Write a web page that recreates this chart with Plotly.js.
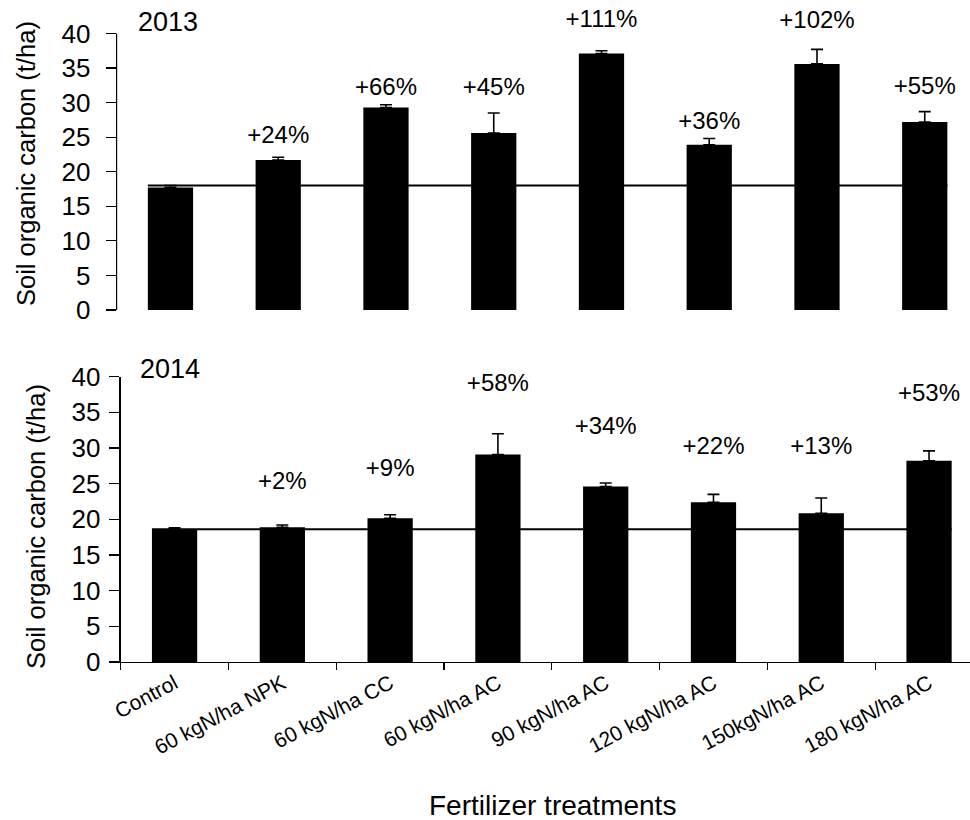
<!DOCTYPE html>
<html>
<head>
<meta charset="utf-8">
<script src="https://cdn.plot.ly/plotly-3.0.1.min.js"></script>
<style>html,body{margin:0;padding:0;background:#fff;}#chart{width:970px;height:820px;}</style>
</head>
<body>
<div id="chart"></div>
<script>
// Categories (fertilizer treatments)
const categories = ['Control', '60 kgN/ha NPK', '60 kgN/ha CC', '60 kgN/ha AC', '90 kgN/ha AC', '120 kgN/ha AC', '150kgN/ha AC', '180 kgN/ha AC'];

// 2013 soil organic carbon (t/ha) and upper error
const soc2013 = [17.7, 21.7, 29.3, 25.6, 37.1, 23.9, 35.6, 27.2];
const err2013 = [0.3, 0.4, 0.4, 2.9, 0.4, 0.9, 2.1, 1.5];
const pct2013 = ['+24%', '+66%', '+45%', '+111%', '+36%', '+102%', '+55%'];
const pctY2013 = [25.0, 32.0, 32.0, 41.8, 27.1, 41.6, 32.1];
const control2013 = 18.0;

// 2014 soil organic carbon (t/ha) and upper error
const soc2014 = [18.6, 18.9, 20.15, 29.1, 24.6, 22.4, 20.85, 28.2];
const err2014 = [0.2, 0.3, 0.5, 2.9, 0.5, 1.1, 2.15, 1.4];
const pct2014 = ['+2%', '+9%', '+58%', '+34%', '+22%', '+13%', '+53%'];
const pctY2014 = [25.1, 26.9, 38.8, 32.8, 30.0, 30.0, 37.4];
const control2014 = 18.6;

const yTicks = [0, 5, 10, 15, 20, 25, 30, 35, 40];
const yearLabels = ['2013', '2014'];
const yTitle = 'Soil organic carbon (t/ha)';
const xTitle = 'Fertilizer treatments';

const FONT = 'Liberation Sans, Arial, sans-serif';
const zeros = categories.map(() => 0);

function barTrace(vals, errs, xa, ya) {
  return {
    type: 'bar', x: categories, y: vals, xaxis: xa, yaxis: ya,
    width: 0.42,
    marker: {color: '#000000', line: {width: 0}},
    error_y: {type: 'data', symmetric: false, array: errs, arrayminus: zeros,
              color: '#000000', thickness: 1.6, width: 6},
    showlegend: false, hoverinfo: 'none'
  };
}
function textTrace(txt, ys, xa, ya) {
  return {
    type: 'scatter', mode: 'text', x: categories.slice(1), y: ys, text: txt,
    xaxis: xa, yaxis: ya, textposition: 'middle center', cliponaxis: false,
    textfont: {family: FONT, size: 24, color: '#000000'},
    showlegend: false, hoverinfo: 'none'
  };
}

// percentage labels live on the overlay axes (identical ranges to the bar axes)
const data = [
  barTrace(soc2013, err2013, 'x', 'y'),
  textTrace(pct2013, pctY2013, 'x', 'y3'),
  barTrace(soc2014, err2014, 'x2', 'y2'),
  textTrace(pct2014, pctY2014, 'x2', 'y4')
];

// axes that draw the visible tick marks (no labels)
const yTickAxis = {
  tickvals: yTicks, showticklabels: false,
  ticks: 'outside', ticklen: 10, tickwidth: 1.2, tickcolor: '#000',
  showgrid: false, zeroline: false, automargin: false
};
// overlay axes that carry the tick labels, positioned a bit further out
const yLabelAxis = {
  tickvals: yTicks, ticktext: yTicks.map(String),
  ticks: 'outside', ticklen: 10, tickcolor: 'rgba(0,0,0,0)', tickwidth: 1,
  showline: false, showgrid: false, zeroline: false, automargin: false, side: 'left',
  anchor: 'free', tickfont: {family: FONT, size: 26, color: '#000'}
};

const layout = {
  width: 970, height: 820,
  margin: {l: 0, r: 0, t: 0, b: 0},
  paper_bgcolor: '#ffffff', plot_bgcolor: 'rgba(0,0,0,0)',
  font: {family: FONT, color: '#000'},
  xaxis: {
    domain: [0.1202, 1], range: [-0.5, 7.42], type: 'category',
    showline: false, ticks: '', showticklabels: false, showgrid: false, zeroline: false,
    anchor: 'y', automargin: false
  },
  // top panel: range runs a little above 40 so the labels above the plot stay visible;
  // the axis line itself is drawn only from 0 to 40 (shape below)
  yaxis: Object.assign({}, yTickAxis, {range: [0, 43], domain: [0.6220, 0.98444], anchor: 'x', showline: false}),
  yaxis3: Object.assign({}, yLabelAxis, {range: [0, 43], overlaying: 'y', position: 0.1089}),
  xaxis2: {
    domain: [0.1244, 1], range: [-0.5, 7.38], type: 'category',
    showline: true, linecolor: '#000', linewidth: 1.2,
    ticks: 'outside', tickson: 'boundaries', ticklen: 7, tickwidth: 1.2, tickcolor: '#000',
    tickangle: -28, tickfont: {family: FONT, size: 21, color: '#000'},
    showgrid: false, zeroline: false, anchor: 'y2', automargin: false
  },
  yaxis2: Object.assign({}, yTickAxis, {range: [0, 40], domain: [0.1927, 0.5406], anchor: 'x2',
    showline: true, linecolor: '#000', linewidth: 1.2}),
  yaxis4: Object.assign({}, yLabelAxis, {range: [0, 40], overlaying: 'y2', position: 0.1192}),
  shapes: [
    {type: 'line', xref: 'paper', yref: 'y', x0: 0.1202, x1: 0.1202, y0: yTicks[0], y1: yTicks[yTicks.length - 1],
     line: {color: '#000', width: 1.2}},
    {type: 'line', xref: 'x', yref: 'y', x0: -0.21, x1: 7.21, y0: control2013, y1: control2013,
     line: {color: '#000', width: 2}},
    {type: 'line', xref: 'x2', yref: 'y2', x0: -0.21, x1: 7.21, y0: control2014, y1: control2014,
     line: {color: '#000', width: 2}}
  ],
  annotations: [
    {text: yearLabels[0], xref: 'paper', yref: 'paper', x: 0.1732, y: 0.9732, showarrow: false,
     xanchor: 'center', yanchor: 'middle', font: {family: FONT, size: 27, color: '#000'}},
    {text: yearLabels[1], xref: 'paper', yref: 'paper', x: 0.1753, y: 0.5494, showarrow: false,
     xanchor: 'center', yanchor: 'middle', font: {family: FONT, size: 27, color: '#000'}},
    {text: yTitle, xref: 'paper', yref: 'paper', x: 0.0263, y: 0.8006, showarrow: false, textangle: -90,
     xanchor: 'center', yanchor: 'middle', font: {family: FONT, size: 25.5, color: '#000'}},
    {text: yTitle, xref: 'paper', yref: 'paper', x: 0.0366, y: 0.3579, showarrow: false, textangle: -90,
     xanchor: 'center', yanchor: 'middle', font: {family: FONT, size: 25.5, color: '#000'}},
    {text: xTitle, xref: 'paper', yref: 'paper', x: 0.570, y: 0.0171, showarrow: false,
     xanchor: 'center', yanchor: 'middle', font: {family: FONT, size: 28, color: '#000'}}
  ]
};

Plotly.newPlot('chart', data, layout, {displayModeBar: false, staticPlot: true});
</script>
</body>
</html>
